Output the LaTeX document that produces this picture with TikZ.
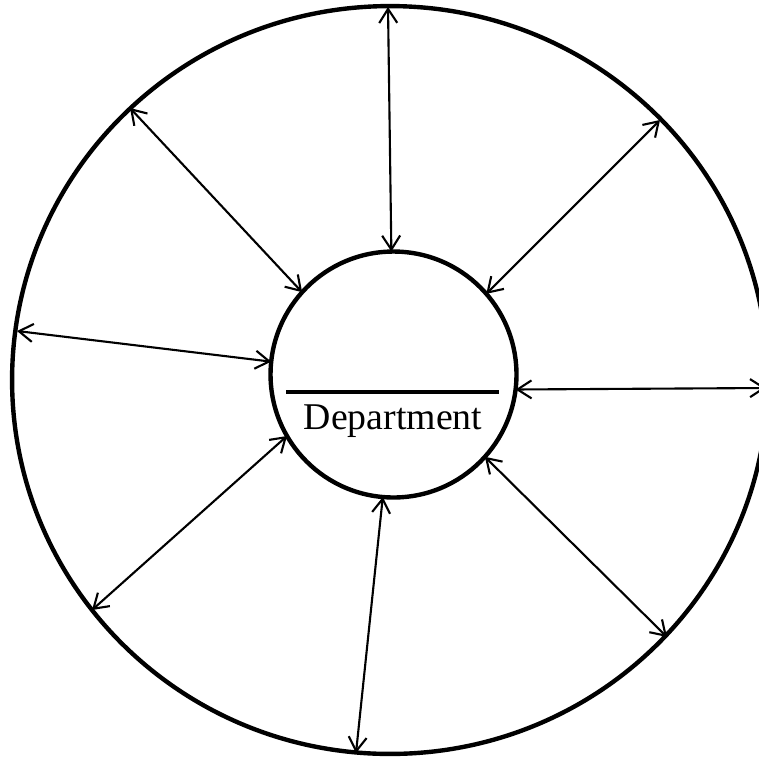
\documentclass[tikz,border=0pt]{standalone}
\usepackage{fontspec}
\setmainfont{Liberation Serif}
\usetikzlibrary{arrows.meta}

\begin{document}
\begin{tikzpicture}[x=0.02cm, y=-0.02cm,
  >={Straight Barb[length=0.28cm, width=0.36cm]},
  spoke/.style={<->, line width=1.2pt},
  every node/.style={font=\fontsize{21.5}{25}\selectfont}]

\useasboundingbox (0,0) rectangle (759,758);
\clip (0,0) rectangle (759,758);

% ── outer ring ───────────────────────────────────────────────
\draw[line width=2.5pt] (390,380) ellipse [x radius=7.56cm, y radius=7.48cm];

% ── centre: the department ───────────────────────────────────
\node[
  draw, circle, line width=2.5pt,
  minimum size=4.92cm, inner sep=0pt, outer sep=0pt,
] (dept) at (393.5,374.5) {};

\draw[line width=1.8pt] (286,392) -- (499,392);
\node (name) at (393,421) {Department};

% ── points on the ring ───────────────────────────────────────
\coordinate (n)  at (388,7);
\coordinate (nw) at (130,108);
\coordinate (ne) at (660,120);
\coordinate (w)  at (17,331);
\coordinate (e)  at (766,388);
\coordinate (sw) at (92,610);
\coordinate (se) at (667,637);
\coordinate (s)  at (356,753);

% ── spokes ───────────────────────────────────────────────────
\draw[spoke] (dept.91.6)  -- (n);
\draw[spoke] (dept.138.6) -- (nw);
\draw[spoke] (dept.41.1)  -- (ne);
\draw[spoke] (dept.174.3) -- (w);
\draw[spoke] (dept.-7.3)  -- (e);
\draw[spoke] (dept.210.8) -- (sw);
\draw[spoke] (dept.-42.4) -- (se);
\draw[spoke] (dept.265)   -- (s);

\end{tikzpicture}
\end{document}
